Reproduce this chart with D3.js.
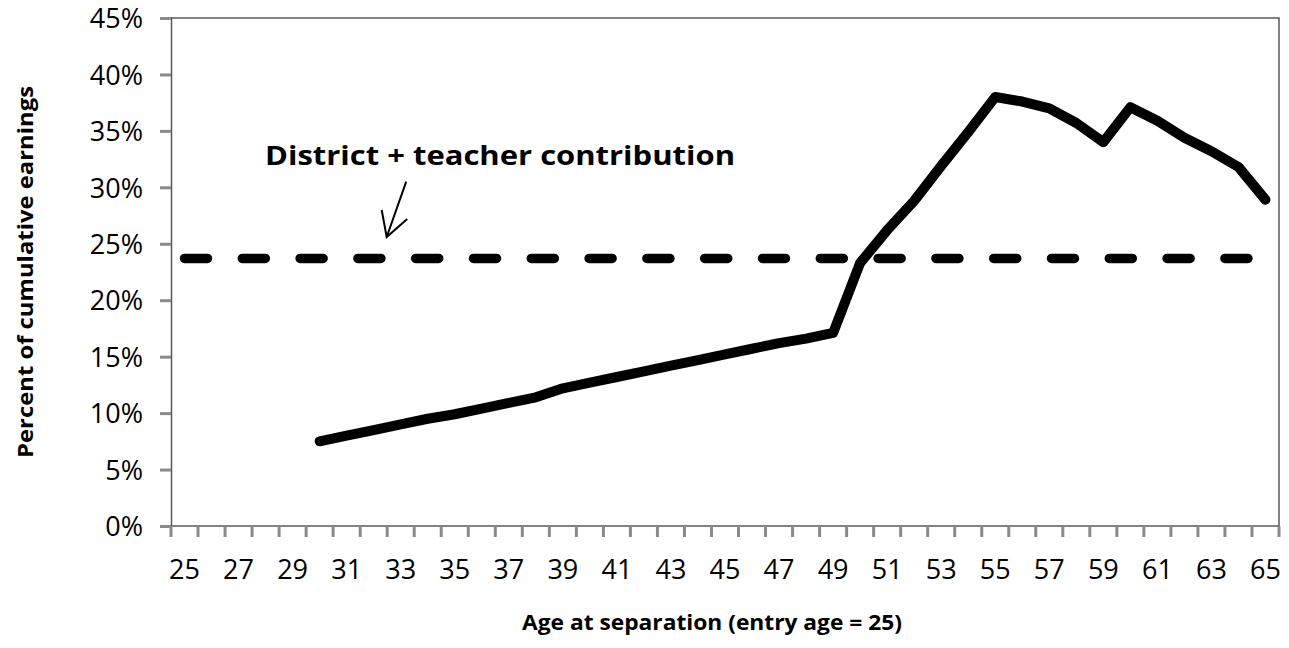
<!DOCTYPE html>
<html>
<head>
<meta charset="utf-8">
<script src="https://cdn.jsdelivr.net/npm/d3@7"></script>
<style>
  body { margin: 0; background: #fff; }
  text { font-family: "Open Sans", "Noto Sans", sans-serif; }
</style>
</head>
<body>
<script>
// categories: age at separation, entry age 25
const ages = d3.range(25, 66);
const xTickLabels = d3.range(25, 66, 2);
const yTickValues = [0, 5, 10, 15, 20, 25, 30, 35, 40, 45];

// pension value as percent of cumulative earnings (starts at age 30)
const pensionAges = d3.range(30, 66);
const pensionValues = [
  7.5, 8.0, 8.5, 9.0, 9.5, 9.9, 10.4, 10.9, 11.4, 12.2,
  12.7, 13.2, 13.7, 14.2, 14.7, 15.2, 15.7, 16.2, 16.6, 17.1,
  23.3, 26.2, 28.8, 31.9, 34.9, 38.0, 37.6, 37.0, 35.7, 34.0,
  37.1, 35.9, 34.4, 33.2, 31.8, 28.9
];

// district + teacher contribution, flat across all ages
const contributionValue = 23.7;

const width = 1289, height = 648;
const margin = {top: 18, right: 10, bottom: 122, left: 171};
const plotW = 1279 - margin.left;
const plotH = 526 - margin.top;

const svg = d3.select("body")
  .append("svg")
  .attr("width", width)
  .attr("height", height);

const g = svg.append("g")
  .attr("transform", "translate(" + margin.left + "," + margin.top + ")");

const x = d3.scaleBand()
  .domain(ages)
  .range([0, plotW])
  .padding(0);

const y = d3.scaleLinear()
  .domain([0, 45])
  .range([plotH, 0]);

const cx = function(a) { return x(a) + x.bandwidth() / 2; };

// plot border (top + right)
g.append("path")
  .attr("d", "M0,0H" + plotW + "V" + plotH)
  .attr("fill", "none")
  .attr("stroke", "#595959")
  .attr("stroke-width", 1.5);

// y axis
const yAxis = g.append("g")
  .call(d3.axisLeft(y).tickValues(yTickValues).tickSize(11).tickFormat(function(d) { return d + "%"; }));
yAxis.select(".domain").attr("stroke", "#595959").attr("stroke-width", 1.5);
yAxis.selectAll(".tick line").attr("stroke", "#8a8a8a").attr("stroke-width", 3);
yAxis.selectAll(".tick text")
  .attr("x", -28)
  .attr("dy", "0.36em")
  .attr("fill", "#000")
  .style("font-size", "27px")
  .style("font-family", "'Open Sans', sans-serif");

// x axis: ticks between categories, labels every other age
const xAxis = g.append("g")
  .attr("transform", "translate(0," + plotH + ")");
xAxis.append("line")
  .attr("x1", 0).attr("x2", plotW)
  .attr("stroke", "#595959").attr("stroke-width", 1.5);
xAxis.selectAll(".xt")
  .data(ages.concat([66]))
  .enter().append("line")
  .attr("class", "xt")
  .attr("x1", function(d) { return d === 66 ? plotW : x(d); })
  .attr("x2", function(d) { return d === 66 ? plotW : x(d); })
  .attr("y1", 0).attr("y2", 11)
  .attr("stroke", "#8a8a8a").attr("stroke-width", 3);
xAxis.selectAll(".xl")
  .data(xTickLabels)
  .enter().append("text")
  .attr("class", "xl")
  .attr("x", function(d) { return cx(d); })
  .attr("y", 53)
  .attr("text-anchor", "middle")
  .style("font-size", "27px")
  .text(function(d) { return d; });

// contribution dashed line
g.append("path")
  .datum(ages)
  .attr("d", d3.line().x(cx).y(function() { return y(contributionValue); }))
  .attr("fill", "none")
  .attr("stroke", "#000")
  .attr("stroke-width", 9.5)
  .attr("stroke-linecap", "round")
  .attr("stroke-dasharray", "23,34.8");

// pension value line
g.append("path")
  .datum(pensionAges.map(function(a, i) { return [a, pensionValues[i]]; }))
  .attr("d", d3.line().x(function(d) { return cx(d[0]); }).y(function(d) { return y(d[1]); }))
  .attr("fill", "none")
  .attr("stroke", "#000")
  .attr("stroke-width", 10)
  .attr("stroke-linecap", "round")
  .attr("stroke-linejoin", "round");

// annotation + arrow
g.append("text")
  .attr("x", 94)
  .attr("y", 147)
  .attr("font-weight", "bold")
  .style("font-size", "27px")
  .attr("textLength", 470)
  .attr("lengthAdjust", "spacingAndGlyphs")
  .text("District + teacher contribution");

const tip = [x(33) - 0.5, y(25.6)];
const tail = [x(33) + 19, y(30.5)];
g.append("path")
  .attr("d", "M" + tail + "L" + tip + "M" + [tip[0] - 5, tip[1] - 27] + "L" + tip + "L" + [tip[0] + 20.5, tip[1] - 18])
  .attr("fill", "none")
  .attr("stroke", "#000")
  .attr("stroke-width", 2);

// axis titles
svg.append("text")
  .attr("transform", "translate(33,272) rotate(-90)")
  .attr("text-anchor", "middle")
  .attr("font-weight", "bold")
  .style("font-size", "21px")
  .attr("textLength", 372)
  .attr("lengthAdjust", "spacingAndGlyphs")
  .text("Percent of cumulative earnings");

svg.append("text")
  .attr("x", 712)
  .attr("y", 630)
  .attr("text-anchor", "middle")
  .attr("font-weight", "bold")
  .style("font-size", "21px")
  .attr("textLength", 380)
  .attr("lengthAdjust", "spacingAndGlyphs")
  .text("Age at separation (entry age = 25)");
</script>
</body>
</html>
